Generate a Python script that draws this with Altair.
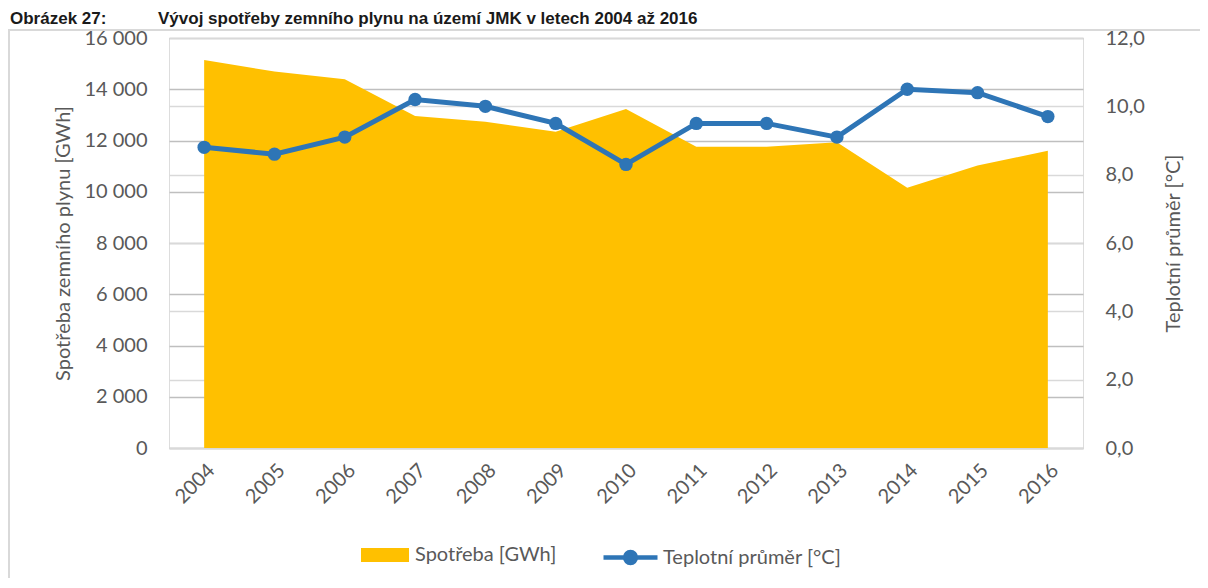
import altair as alt
import pandas as pd

years = [str(y) for y in range(2004, 2017)]
spotreba = [15140, 14690, 14390, 12960, 12730, 12340, 13230, 11760, 11760, 11930, 10160, 11020, 11600]
teplota = [8.8, 8.6, 9.1, 10.2, 10.0, 9.5, 8.3, 9.5, 9.5, 9.1, 10.5, 10.4, 9.7]
gas_label = "Spotřeba [GWh]"
temp_label = "Teplotní průměr [°C]"
left_title = "Spotřeba zemního plynu  [GWh]"
right_title = "Teplotní průměr [°C]"
left_ticks = list(range(0, 16001, 2000))
right_ticks = [0, 2, 4, 6, 8, 10, 12]
title_num = "Obrázek 27:"
title_text = "Vývoj spotřeby zemního plynu na území JMK v letech 2004 až 2016"

FONT = "Lato"
TITLE_FONT = "Liberation Sans"
TXT = "#595959"
W, H = 914, 410

df = pd.DataFrame({"rok": years, "spotreba": spotreba, "teplota": teplota})
df["s1"] = gas_label
df["s2"] = temp_label

xscale = alt.Scale(type="point", padding=0.5)


def xaxis():
    return alt.Axis(labelAngle=-45, labelFontSize=20, labelFont=FONT, labelColor=TXT,
                    ticks=False, domainColor="#d9d9d9", domainWidth=2, labelPadding=12,
                    grid=False)


one = pd.DataFrame({"a": [0]})
frame = alt.Chart(one).mark_rect(fillOpacity=0, stroke="#d9d9d9", strokeWidth=2).encode(
    x=alt.value(-160), x2=alt.value(W + 140), y=alt.value(-8), y2=alt.value(H + 160)
)
title1 = alt.Chart(one).mark_text(
    text=title_num, align="left", baseline="alphabetic", fontSize=17,
    fontWeight="bold", font=TITLE_FONT, color="#1a1a1a"
).encode(x=alt.value(-159), y=alt.value(-14))
title2 = alt.Chart(one).mark_text(
    text=title_text, align="left", baseline="alphabetic", fontSize=17,
    fontWeight="bold", font=TITLE_FONT, color="#1a1a1a"
).encode(x=alt.value(-11), y=alt.value(-14))

area = alt.Chart(df).mark_area(opacity=1).encode(
    x=alt.X("rok:O", scale=xscale, title=None, axis=xaxis()),
    y=alt.Y("spotreba:Q", scale=alt.Scale(domain=[0, 16000], nice=False),
            axis=alt.Axis(orient="left", values=left_ticks, format=",d", title=left_title,
                          labelFontSize=20, labelFont=FONT, labelColor=TXT, labelPadding=22,
                          titleFontSize=20, titleFont=FONT, titleColor=TXT, titleFontWeight="normal",
                          titlePadding=10, ticks=False, domain=False,
                          grid=True, gridColor="#bfbfbf", gridWidth=1.5)),
    color=alt.Color("s1:N", scale=alt.Scale(domain=[gas_label], range=["#FFC000"]), title=None,
                    legend=alt.Legend(orient="none", legendX=192, legendY=493, padding=0,
                                      symbolType="M-1,-0.29L1,-0.29L1,0.29L-1,0.29Z",
                                      symbolSize=2304, symbolStrokeWidth=0, labelOffset=6,
                                      labelLimit=400,
                                      labelFontSize=20, labelFont=FONT, labelColor=TXT)),
)

line = alt.Chart(df).mark_line(strokeWidth=5, point=alt.OverlayMarkDef(filled=True, size=180, opacity=1)).encode(
    x=alt.X("rok:O", scale=xscale, title=None, axis=xaxis()),
    y=alt.Y("teplota:Q", scale=alt.Scale(domain=[0, 12], nice=False),
            axis=alt.Axis(orient="right", values=right_ticks, format=".1f", title=right_title,
                          labelFontSize=20, labelFont=FONT, labelColor=TXT, labelPadding=22,
                          titleFontSize=20, titleFont=FONT, titleColor=TXT, titleFontWeight="normal",
                          titleAngle=270, titlePadding=39, ticks=False, domain=False,
                          grid=True, gridColor="#d9d9d9", gridWidth=1.5)),
    color=alt.Color("s2:N", scale=alt.Scale(domain=[temp_label], range=["#2E75B6"]), title=None,
                    legend=alt.Legend(orient="none", legendX=432, legendY=490, padding=0,
                                      symbolType="M-1,0L1,0M-0.2,0A0.2,0.2 0 1,0 0.2,0A0.2,0.2 0 1,0 -0.2,0Z",
                                      symbolSize=2916, symbolStrokeWidth=4.5,
                                      symbolFillColor="#2E75B6", symbolStrokeColor="#2E75B6",
                                      labelOffset=3, labelLimit=400,
                                      labelFontSize=20, labelFont=FONT, labelColor=TXT)),
)

chart = alt.layer(frame, title1, title2, area, line).resolve_scale(
    y="independent", color="independent"
).properties(
    width=W, height=H,
    autosize=alt.AutoSizeParams(type="none"),
    padding={"left": 161, "top": 30, "right": 117, "bottom": 130},
).configure_view(strokeWidth=0).configure(
    locale=alt.Locale(number=alt.NumberLocale(decimal=",", thousands=" ", grouping=[3], currency=["", ""]))
)

chart.save("out.html", embed_options={"renderer": "svg", "actions": False})
